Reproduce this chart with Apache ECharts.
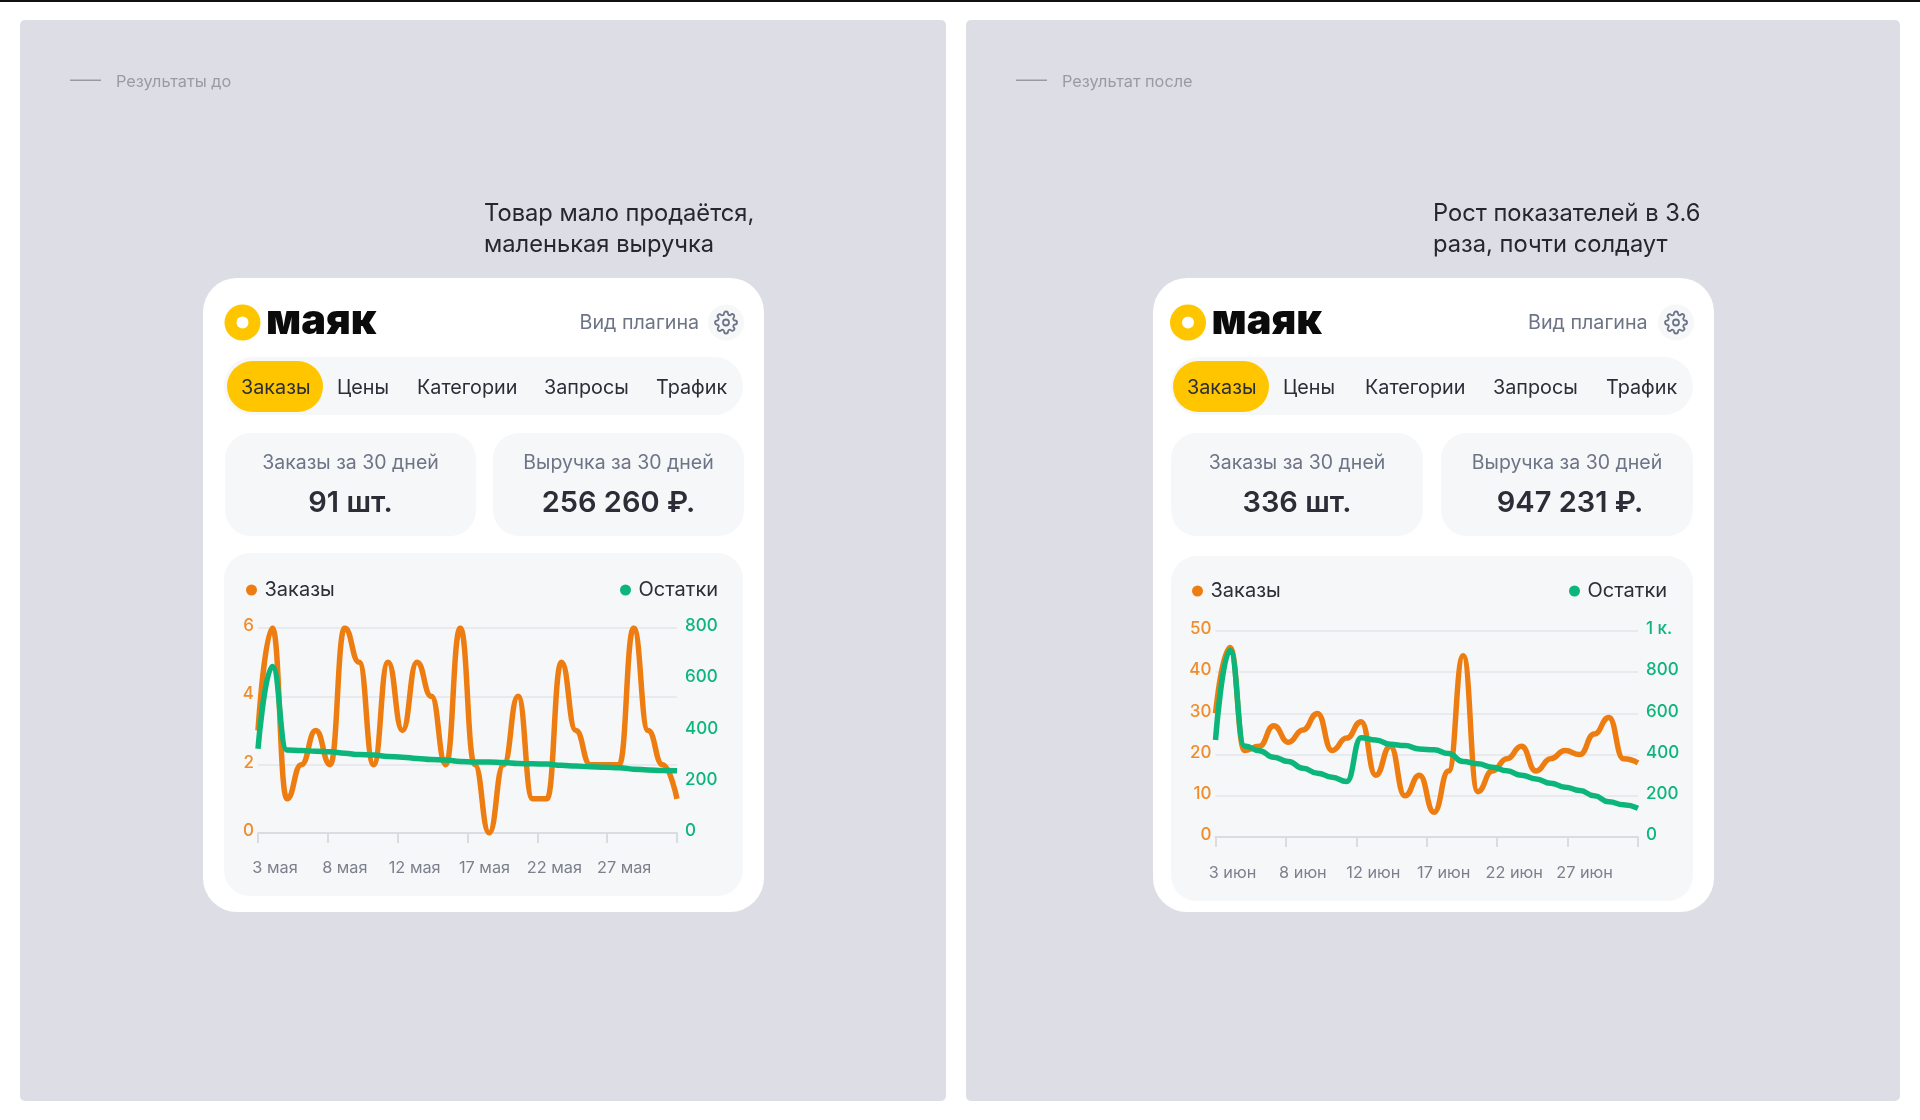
<!DOCTYPE html>
<html lang="ru">
<head>
<meta charset="UTF-8">
<title>Результаты</title>
<script src="https://cdn.jsdelivr.net/npm/echarts@6/dist/echarts.min.js"></script>
<style>
  html, body { margin: 0; padding: 0; background: #fff; }
  #container { width: 1920px; height: 1120px; }
</style>
</head>
<body>
<div id="container"></div>
<script>
// данные графиков
var ordersMay = [3, 6, 1, 2, 3, 2, 6, 5, 2, 5, 3, 5, 4, 2, 6, 2, 0, 2, 4, 1, 1, 5, 3, 2, 2, 2, 6, 3, 2, 1];
var stockMay = [329, 650, 324, 322, 319, 317, 311, 306, 304, 299, 296, 291, 287, 285, 279, 277, 277, 275, 271, 270, 269, 264, 261, 259, 257, 255, 249, 246, 244, 243];
var ordersJune = [30, 46, 21, 22, 27, 23, 26, 30, 21, 24, 28, 15, 22, 10, 15, 6, 16, 44, 11, 16, 19, 22, 16, 19, 21, 20, 25, 29, 19, 18];
var stockJune = [471, 906, 442, 419, 387, 366, 334, 310, 290, 269, 482, 471, 450, 444, 427, 423, 405, 366, 355, 339, 321, 300, 282, 261, 242, 226, 200, 171, 156, 140];
var labelsMay = ['3 мая', '8 мая', '12 мая', '17 мая', '22 мая', '27 мая', ''];
var labelsJune = ['3 июн', '8 июн', '12 июн', '17 июн', '22 июн', '27 июн', ''];
var tabNames = ['Заказы', 'Цены', 'Категории', 'Запросы', 'Трафик'];

var FONT = 'Inter, "Noto Sans", sans-serif';
var ORANGE = '#EE7D11';
var GREEN = '#0CB67A';
var BOX = '#F6F7F9';
var DARK = '#2C2E37';
var GRAY = '#6D7486';
var GEAR = 'M12 15a3 3 0 1 0 0-6 3 3 0 0 0 0 6z M19.4 15a1.65 1.65 0 0 0 .33 1.82l.06.06a2 2 0 0 1 0 2.83 2 2 0 0 1-2.83 0l-.06-.06a1.65 1.65 0 0 0-1.82-.33 1.65 1.65 0 0 0-1 1.51V21a2 2 0 0 1-2 2 2 2 0 0 1-2-2v-.09A1.65 1.65 0 0 0 9 19.4a1.65 1.65 0 0 0-1.82.33l-.06.06a2 2 0 0 1-2.83 0 2 2 0 0 1 0-2.83l.06-.06a1.65 1.65 0 0 0 .33-1.82 1.65 1.65 0 0 0-1.51-1H3a2 2 0 0 1-2-2 2 2 0 0 1 2-2h.09A1.65 1.65 0 0 0 4.6 9a1.65 1.65 0 0 0-.33-1.82l-.06-.06a2 2 0 0 1 0-2.83 2 2 0 0 1 2.83 0l.06.06a1.65 1.65 0 0 0 1.82.33H9a1.65 1.65 0 0 0 1-1.51V3a2 2 0 0 1 2-2 2 2 0 0 1 2 2v.09a1.65 1.65 0 0 0 1 1.51 1.65 1.65 0 0 0 1.82-.33l.06-.06a2 2 0 0 1 2.83 0 2 2 0 0 1 0 2.83l-.06.06a1.65 1.65 0 0 0-.33 1.82V9a1.65 1.65 0 0 0 1.51 1H21a2 2 0 0 1 2 2 2 2 0 0 1-2 2h-.09a1.65 1.65 0 0 0-1.51 1z';

echarts.graphic.registerShape('gear', echarts.graphic.extendPath(GEAR, {}));

var elements = [];

function rect(x, y, w, h, r, fill) {
  elements.push({ type: 'rect', z: -10, silent: true, shape: { x: x, y: y, width: w, height: h, r: r }, style: { fill: fill } });
}
function label(text, x, y, size, weight, fill, align) {
  elements.push({
    type: 'text', z: -5, silent: true, x: x, y: y,
    style: { text: text, fill: fill, align: align || 'left', verticalAlign: 'middle', font: weight + ' ' + size + 'px ' + FONT }
  });
}

// панель с карточкой плагина
function panel(p) {
  rect(p.panelX, 20, p.panelW, 1081, 5, '#DDDEE5');
  rect(p.panelX + 50, 79.5, 31, 1.5, 0, '#9A9AA2');
  label(p.note, p.panelX + 96, 82, 16.3, 400, '#9A9AA2');
  label(p.head[0], p.headX, 213.5, 23.7, 400, '#26272C');
  label(p.head[1], p.headX, 245, 23.7, 400, '#26272C');

  rect(p.cardX, 278, 561, 634, 34, '#fff');

  // логотип
  elements.push({ type: 'circle', z: -5, silent: true, shape: { cx: p.logoX, cy: 322.5, r: 18 }, style: { fill: '#FFC600' } });
  elements.push({ type: 'circle', z: -4, silent: true, shape: { cx: p.logoX, cy: 322.5, r: 6 }, style: { fill: '#fff' } });
  label('маяк', p.logoX + 23.5, 322, 41.5, 900, '#0B0B0B');

  label('Вид плагина', p.viewX, 323.5, 19.7, 400, GRAY);
  elements.push({ type: 'circle', z: -5, silent: true, shape: { cx: p.gearX, cy: 322.5, r: 18 }, style: { fill: BOX } });
  elements.push({
    type: 'gear', z: -4, silent: true, x: p.gearX - 12, y: 310.5,
    style: { fill: 'none', stroke: GRAY, lineWidth: 1.8 }
  });

  // вкладки
  rect(p.tabsX, 357, p.tabsW, 58, 29, BOX);
  rect(p.tabsX + p.pillShift, 361, 96, 51, 25.5, '#FFC600');
  tabNames.forEach(function (name, i) {
    label(name, p.tabsX + p.tabOffsets[i], 388, 19.8, 400, DARK);
  });

  // показатели
  rect(p.tabsX + p.pillShift - 2, 433, p.statW, 103, 26, BOX);
  rect(p.stat2X, 433, p.statW, 103, 26, BOX);
  var c1 = p.tabsX + p.pillShift - 2 + p.statW / 2;
  var c2 = p.stat2X + p.statW / 2;
  label('Заказы за 30 дней', c1, 463, 19.5, 400, GRAY, 'center');
  label('Выручка за 30 дней', c2, 463, 19.5, 400, GRAY, 'center');
  label(p.orders, c1, 503, 29, 600, DARK, 'center');
  label(p.revenue, c2 + p.revenueShift, 503, 29, 600, DARK, 'center');

  // подложка графика
  rect(p.tabsX, p.boxY, p.tabsW, p.boxH, 26, BOX);
}

panel({
  panelX: 20, panelW: 926, note: 'Результаты до', headX: 484,
  head: ['Товар мало продаётся,', 'маленькая выручка'],
  cardX: 203, logoX: 242.5, viewX: 579.5, gearX: 726, tabsX: 224, tabsW: 519, pillShift: 3,
  tabOffsets: [17, 113, 193, 320, 432], statW: 251, stat2X: 493,
  orders: '91 шт.', revenue: '256 260 ₽.', revenueShift: 0, boxY: 553, boxH: 343
});
panel({
  panelX: 966, panelW: 934, note: 'Результат после', headX: 1433,
  head: ['Рост показателей в 3.6', 'раза, почти солдаут'],
  cardX: 1153, logoX: 1188, viewX: 1528, gearX: 1676, tabsX: 1171, tabsW: 522, pillShift: 2,
  tabOffsets: [16, 112, 194, 322, 435], statW: 252, stat2X: 1441,
  orders: '336 шт.', revenue: '947 231 ₽.', revenueShift: 3, boxY: 556, boxH: 345
});
rect(0, 0, 1920, 2, 0, '#111');

var sets = [
  { orders: ordersMay, stock: stockMay, labels: labelsMay, x: 258, w: 419, y: 628, h: 205, ordersMax: 6, ordersStep: 2, stockMax: 800, stockStep: 200, legendY: 580, dot1: 246, dot2: 620, labelMargin: 27 },
  { orders: ordersJune, stock: stockJune, labels: labelsJune, x: 1215.5, w: 422.5, y: 631, h: 206, ordersMax: 50, ordersStep: 10, stockMax: 1000, stockStep: 200, legendY: 581, dot1: 1192, dot2: 1569, labelMargin: 28.5 }
];

var option = {
  animation: false,
  backgroundColor: '#fff',
  textStyle: { fontFamily: FONT },
  graphic: { elements: elements },
  grid: [], xAxis: [], yAxis: [], series: [], legend: []
};

sets.forEach(function (s, k) {
  var tickStep = (s.orders.length - 1) / 6;
  option.grid.push({ left: s.x, top: s.y, width: s.w, height: s.h, containLabel: false });
  option.xAxis.push({
    type: 'value', gridIndex: k, min: 0, max: s.orders.length - 1, interval: tickStep,
    splitLine: { show: false },
    axisLine: { lineStyle: { color: '#DADCE1', width: 2 } },
    axisTick: { length: 10, lineStyle: { color: '#DADCE1', width: 2 } },
    axisLabel: {
      color: '#7B808C', fontSize: 16.3, margin: s.labelMargin, align: 'center', padding: [0, 0, 0, 34],
      hideOverlap: false,
      formatter: function (v) { return s.labels[Math.round(v / tickStep)]; }
    }
  });
  option.yAxis.push({
    type: 'value', gridIndex: k, min: 0, max: s.ordersMax, interval: s.ordersStep, position: 'left',
    axisLine: { show: false }, axisTick: { show: false },
    splitLine: { lineStyle: { color: '#E9EAEE', width: 2 } },
    axisLabel: { color: '#F08C2A', fontSize: 17, fontWeight: 500, margin: 4, verticalAlign: 'bottom', lineHeight: 4 }
  });
  option.yAxis.push({
    type: 'value', gridIndex: k, min: 0, max: s.stockMax, interval: s.stockStep, position: 'right',
    axisLine: { show: false }, axisTick: { show: false }, splitLine: { show: false },
    axisLabel: {
      color: GREEN, fontSize: 17, fontWeight: 500, margin: 8, verticalAlign: 'bottom', lineHeight: 4,
      formatter: function (v) { return v >= 1000 ? '1 к.' : v; }
    }
  });
  option.series.push({
    name: 'Заказы' + (k ? ' ' : ''), type: 'line', xAxisIndex: k, yAxisIndex: k * 2, showSymbol: false,
    smooth: 0.5, smoothMonotone: 'x', z: 3,
    lineStyle: { color: ORANGE, width: 5.5 }, itemStyle: { color: ORANGE },
    data: s.orders.map(function (v, i) { return [i, v]; })
  });
  option.series.push({
    name: 'Остатки' + (k ? ' ' : ''), type: 'line', xAxisIndex: k, yAxisIndex: k * 2 + 1, showSymbol: false,
    smooth: 0.5, smoothMonotone: 'x', z: 4,
    lineStyle: { color: GREEN, width: 5.5 }, itemStyle: { color: GREEN },
    data: s.stock.map(function (v, i) { return [i, v]; })
  });
  ['Заказы', 'Остатки'].forEach(function (name, j) {
    option.legend.push({
      data: [{ name: name + (k ? ' ' : ''), icon: 'circle' }],
      selectedMode: false, left: j ? s.dot2 : s.dot1, top: s.legendY, padding: 0,
      itemWidth: 11, itemHeight: 11,
      textStyle: { color: DARK, fontSize: 20, fontFamily: FONT, padding: [0, 0, 0, 2.5] }
    });
  });
});

var myChart = echarts.init(document.getElementById('container'));
myChart.setOption(option);
</script>
</body>
</html>
